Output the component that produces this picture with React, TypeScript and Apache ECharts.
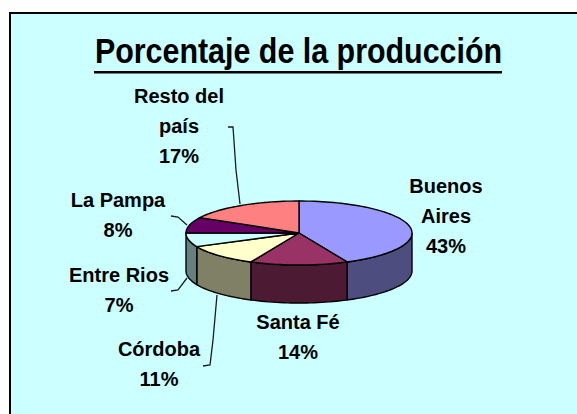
import React, { useEffect, useRef } from "react";
import * as echarts from "echarts";

const titleText = "Porcentaje de la producción";
const categories = ["Buenos Aires", "Santa Fé", "Córdoba", "Entre Rios", "La Pampa", "Resto del país"];
const shares = [43, 14, 11, 7, 8, 17];
const topColors = ["#9999FF", "#993366", "#FFFFCC", "#CCFFFF", "#660066", "#FF8080"];
const sideColors = ["#4D4D80", "#4D1A33", "#808066", "#668080", "#330033", "#804040"];
const labelLines = [["Buenos", "Aires", "43%"], ["Santa Fé", "14%"], ["Córdoba", "11%"], ["Entre Rios", "7%"], ["La Pampa", "8%"], ["Resto del", "país", "17%"]];
const labelAnchors = [[446, 186], [298, 322], [159, 349], [119, 275], [118, 200], [179, 96]];
const leaders: number[][][] = [
  [], [],
  [[203, 366], [210, 365], [213, 340], [217, 295]],
  [[171, 291], [178, 290], [187, 278]],
  [[171, 216], [178, 217], [187, 225]],
  [[228, 127], [233, 127], [236, 170], [240, 204]],
];

const OX = 9, OY = 12;
const CX = 299 - OX, CY = 233 - OY, RX = 113, RY = 32, DEPTH = 38;
const total = shares.reduce((a, b) => a + b, 0);
const rad = (t: number) => (t * Math.PI) / 180;
const pt = (t: number, dy = 0) => [CX + RX * Math.sin(rad(t)), CY - RY * Math.cos(rad(t)) + dy];
const arc = (a: number, b: number, dy = 0) => {
  const out: number[][] = [];
  const n = Math.max(2, Math.ceil((b - a) / 2));
  for (let i = 0; i <= n; i++) out.push(pt(a + ((b - a) * i) / n, dy));
  return out;
};

const font = (size: number) => `bold ${size}px "Liberation Sans", Arial, sans-serif`;

function renderSlice(params: any, api: any) {
  const i = params.dataIndex;
  const before = shares.slice(0, i).reduce((a, b) => a + b, 0);
  const a0 = (before / total) * 360;
  const a1 = a0 + ((api.value(0) as number) / total) * 360;
  const children: any[] = [];
  const s0 = Math.max(a0, 90), s1 = Math.min(a1, 270);
  if (s1 > s0) {
    children.push({
      type: "polygon",
      shape: { points: [...arc(s0, s1), ...arc(s0, s1, DEPTH).reverse()] },
      style: { fill: sideColors[i], stroke: "#000", lineWidth: 1.4 },
    });
  }
  children.push({
    type: "polygon",
    shape: { points: [[CX, CY], ...arc(a0, a1)] },
    style: { fill: topColors[i], stroke: "#000", lineWidth: 1.4 },
  });
  if (leaders[i].length) {
    children.push({
      type: "polyline",
      shape: { points: leaders[i].map(([x, y]) => [x - OX, y - OY]) },
      style: { fill: "none", stroke: "#1a1a1a", lineWidth: 1.3 },
    });
  }
  labelLines[i].forEach((line, k) => {
    children.push({
      type: "text",
      style: {
        x: labelAnchors[i][0] - OX,
        y: labelAnchors[i][1] - OY + k * 30,
        text: line,
        font: font(20),
        fill: "#000",
        align: "center",
        verticalAlign: "middle",
      },
    });
  });
  return { type: "group", children };
}

export default function App() {
  const ref = useRef<HTMLDivElement>(null);
  useEffect(() => {
    const chart = echarts.init(ref.current!, undefined, { renderer: "svg" });
    chart.setOption({
      animation: false,
      backgroundColor: "#CCFFFF",
      graphic: [
        { type: "rect", z: 10, shape: { x: 0, y: 0, width: 568, height: 2 }, style: { fill: "#000" } },
        { type: "rect", z: 10, shape: { x: 0, y: 0, width: 2, height: 402 }, style: { fill: "#000" } },
        {
          type: "text",
          z: 10,
          x: 298.5 - OX,
          y: 69 - OY,
          scaleX: 0.845,
          style: { text: titleText, font: font(36), fill: "#000", align: "center", verticalAlign: "bottom", lineHeight: 36 },
        },
        { type: "rect", z: 10, shape: { x: 94 - OX, y: 71 - OY, width: 408, height: 2.5 }, style: { fill: "#000" } },
      ],
      series: [
        {
          type: "custom",
          coordinateSystem: "none",
          renderItem: renderSlice,
          data: shares.map((v, i) => ({ name: categories[i], value: [v] })),
        },
      ],
    });
    return () => chart.dispose();
  }, []);
  return <div ref={ref} style={{ position: "absolute", left: OX, top: OY, width: 577 - OX, height: 414 - OY }} />;
}
